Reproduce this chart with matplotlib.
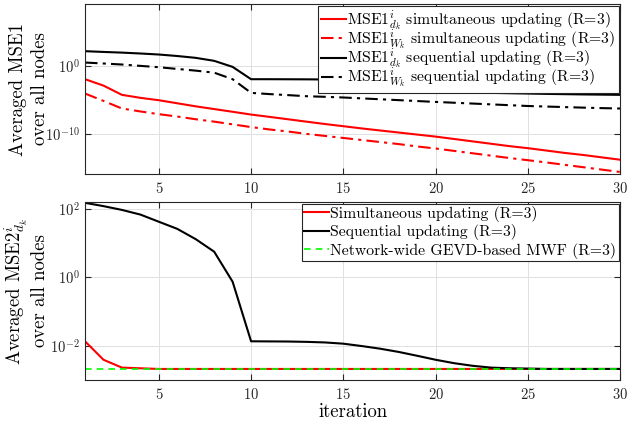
import numpy as np
import matplotlib
matplotlib.use("Agg")
import matplotlib.pyplot as plt

# ===== data (log10 values for the top panel) =====
ITER = list(range(1, 31))

# top panel: log10(Averaged MSE1)
MSE1_D_SIM = [-1.96, -2.9, -4.26, -4.7, -5.05, -5.5, -5.95, -6.35, -6.75, -7.16,
              -7.5, -7.85, -8.2, -8.55, -8.87, -9.2, -9.5, -9.8, -10.1, -10.4,
              -10.75, -11.1, -11.45, -11.8, -12.1, -12.45, -12.8, -13.1, -13.45, -13.8]
MSE1_W_SIM = [-4.07, -5.15, -6.27, -6.7, -7.1, -7.45, -7.85, -8.2, -8.6, -9.0,
              -9.35, -9.65, -10.0, -10.3, -10.6, -10.9, -11.2, -11.5, -11.85, -12.15,
              -12.5, -12.85, -13.2, -13.55, -13.87, -14.2, -14.55, -14.9, -15.25, -15.6]
MSE1_D_SEQ = [2.16, 2.05, 1.95, 1.82, 1.67, 1.45, 1.18, 0.74, -0.15, -1.96,
              -1.96, -1.97, -1.98, -2.0, -2.1, -2.4, -2.8, -3.15, -3.45, -3.65,
              -3.8, -3.9, -3.97, -4.02, -4.07, -4.12, -4.16, -4.2, -4.23, -4.26]
MSE1_W_SEQ = [0.49, 0.35, 0.2, 0.0, -0.2, -0.45, -0.7, -1.0, -1.96, -3.97,
              -4.15, -4.3, -4.46, -4.55, -4.65, -4.78, -4.91, -5.04, -5.17, -5.3,
              -5.42, -5.54, -5.66, -5.78, -5.9, -5.98, -6.06, -6.14, -6.21, -6.27]

# bottom panel: Averaged MSE2
MSE2_SIM = [0.0135, 0.0039, 0.0023, 0.0022, 0.0021, 0.0021, 0.0021, 0.0021, 0.0021, 0.0021,
            0.0021, 0.0021, 0.0021, 0.0021, 0.0021, 0.0021, 0.0021, 0.0021, 0.0021, 0.0021,
            0.0021, 0.0021, 0.0021, 0.0021, 0.0021, 0.0021, 0.0021, 0.0021, 0.0021, 0.0021]
MSE2_SEQ = [150, 120, 93, 68, 42, 26, 13, 5.6, 0.74, 0.0135,
            0.0134, 0.0133, 0.013, 0.0125, 0.0115, 0.0098, 0.0082, 0.0066, 0.0051, 0.0039,
            0.0031, 0.0026, 0.0023, 0.0022, 0.00215, 0.0021, 0.0021, 0.0021, 0.0021, 0.0021]
MSE2_GEVD = [0.0021] * 30

LEG_TOP = [r"MSE1$^i_{d_k}$ simultaneous updating (R=3)",
           r"MSE1$^i_{W_k}$ simultaneous updating (R=3)",
           r"MSE1$^i_{d_k}$ sequential updating (R=3)",
           r"MSE1$^i_{W_k}$ sequential updating (R=3)"]
LEG_BOT = ["Simultaneous updating (R=3)",
           "Sequential updating (R=3)",
           "Network-wide GEVD-based MWF (R=3)"]

# ===== style =====
plt.rcParams["font.family"] = ["cmr10", "DejaVu Serif"]
plt.rcParams["mathtext.fontset"] = "cm"
plt.rcParams["axes.formatter.use_mathtext"] = True
plt.rcParams["axes.unicode_minus"] = False

AX_COL = "#262626"
DASHDOT = (0, (6, 2.5, 1.5, 2.5))
LW = 1.5


def style_axes(ax):
    ax.set_xlim(1, 30)
    ax.set_xticks([5, 10, 15, 20, 25, 30])
    ax.minorticks_off()
    ax.grid(True, color="#e0e0e0", linewidth=0.7)
    ax.set_axisbelow(True)
    ax.tick_params(direction="in", top=True, right=True, labelsize=10.5,
                   colors=AX_COL, length=4, width=0.8)
    ax.tick_params(axis="x", pad=5)
    for sp in ax.spines.values():
        sp.set_color(AX_COL)
        sp.set_linewidth(0.8)


fig = plt.figure(figsize=(6.27, 4.24), dpi=100)
ax1 = fig.add_axes([0.1356, 0.5896, 0.8534, 0.401])
ax2 = fig.add_axes([0.1356, 0.1038, 0.8534, 0.4198])

# ----- top panel -----
ax1.set_yscale("log")
ax1.plot(ITER, 10.0 ** np.array(MSE1_D_SIM), color="red", lw=LW, label=LEG_TOP[0])
ax1.plot(ITER, 10.0 ** np.array(MSE1_W_SIM), color="red", lw=LW, ls=DASHDOT, label=LEG_TOP[1])
ax1.plot(ITER, 10.0 ** np.array(MSE1_D_SEQ), color="black", lw=LW, label=LEG_TOP[2])
ax1.plot(ITER, 10.0 ** np.array(MSE1_W_SEQ), color="black", lw=LW, ls=DASHDOT, label=LEG_TOP[3])
ax1.set_ylim(10.0 ** -15.9, 10.0 ** 9.1)
ax1.set_yticks([1e-10, 1e0])
style_axes(ax1)
ax1.set_ylabel("Averaged MSE1\nover all nodes", fontsize=13.5, linespacing=1.3)
ax1.yaxis.set_label_coords(-0.068, 0.5)
leg1 = ax1.legend(loc="upper right", fontsize=11.3, handlelength=1.55, handletextpad=0.1,
                  labelspacing=-0.32, borderpad=0.2, borderaxespad=0.1, fancybox=False,
                  framealpha=1, edgecolor=AX_COL)
leg1.get_frame().set_linewidth(0.8)

# ----- bottom panel -----
ax2.set_yscale("log")
ax2.plot(ITER, MSE2_SIM, color="red", lw=LW, label=LEG_BOT[0])
ax2.plot(ITER, MSE2_SEQ, color="black", lw=LW, label=LEG_BOT[1])
ax2.plot(ITER, MSE2_GEVD, color="#00ff00", lw=1.2, ls=(0, (4, 3)), label=LEG_BOT[2])
ax2.set_ylim(1e-3, 10.0 ** 2.2)
ax2.set_yticks([1e-2, 1e0, 1e2])
style_axes(ax2)
ax2.set_ylabel("Averaged MSE2$^i_{d_k}$\nover all nodes", fontsize=13.5, linespacing=1.05)
ax2.yaxis.set_label_coords(-0.068, 0.5)
ax2.set_xlabel("iteration", fontsize=13.5, labelpad=1)
leg2 = ax2.legend(loc="upper right", fontsize=11.3, handlelength=1.55, handletextpad=0.1,
                  labelspacing=0.15, borderpad=0.15, borderaxespad=0.1, fancybox=False,
                  framealpha=1, edgecolor=AX_COL)
leg2.get_frame().set_linewidth(0.8)

fig.savefig("out.png", dpi=100)
